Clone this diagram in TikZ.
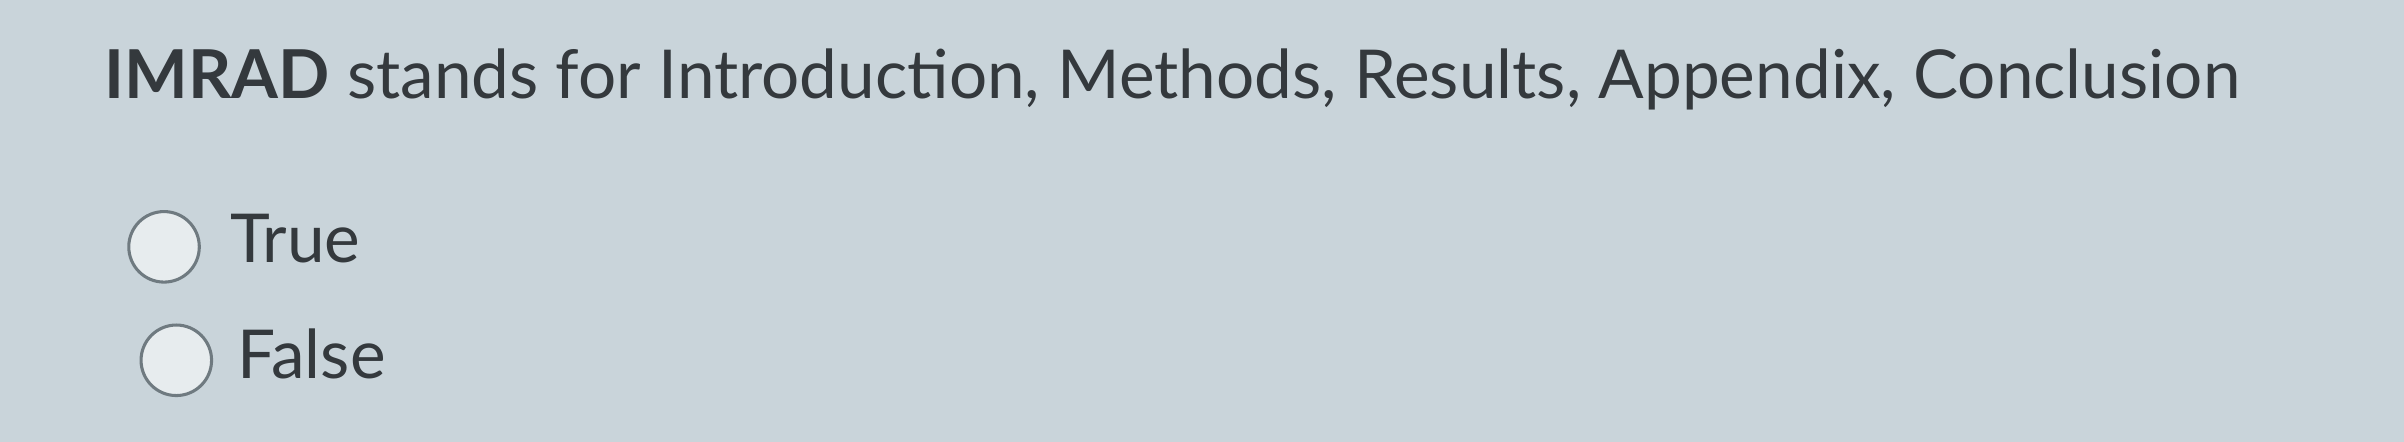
\documentclass[tikz,border=0pt]{standalone}
\usepackage{fontspec}
\setmainfont{Lato}
\definecolor{bg}{HTML}{C9D4DA}
\definecolor{ink}{HTML}{34393D}
\definecolor{ring}{HTML}{6F7A80}
\begin{document}
\begin{tikzpicture}[x=1pt,y=-1pt,
  txt/.style={anchor=base west,inner sep=0pt,text=ink,font=\fontsize{44}{53}\selectfont},
  radio/.style={circle,draw=ring,line width=2pt,fill=white!55!bg,minimum size=46pt,inner sep=0pt}]
\fill[bg] (0,0) rectangle (1568,288);
\useasboundingbox (0,0) rectangle (1568,288);
\node[txt] (q) at (68,64) {\textbf{IMRAD} stands for Introduction, Methods, Results, Appendix, Conclusion};
\node[radio] (r1) at (107,161) {};
\node[txt] (t1) at (150,171) {True};
\node[radio] (r2) at (115,235) {};
\node[txt] (t2) at (155,247) {False};
\end{tikzpicture}
\end{document}
